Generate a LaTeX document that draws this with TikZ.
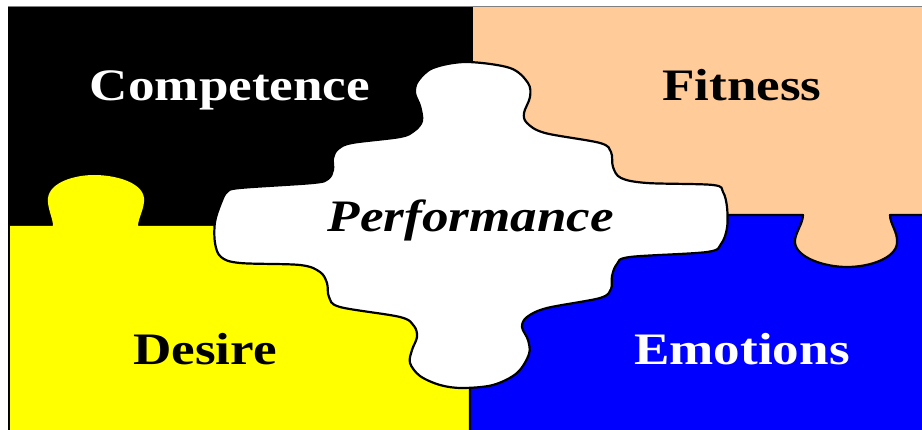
\documentclass[tikz,border=0pt]{standalone}
\usepackage{fontspec}
\newfontfamily\lblfont[FakeStretch=1.18]{Liberation Serif}
\definecolor{peach}{RGB}{255,204,153}
\definecolor{pureblue}{RGB}{0,0,255}
\definecolor{pureyellow}{RGB}{255,255,0}
\tikzset{
  outline/.style={draw=black, line width=2.2pt, line join=round, line cap=round},
  lbl/.style={anchor=base, inner sep=0pt, font=\lblfont\fontsize{45}{45}\selectfont\bfseries}
}
\begin{document}
\begin{tikzpicture}[x=1pt,y=-1pt]
\useasboundingbox (0,0) rectangle (922,430);
\fill[white] (0,0) rectangle (922,430);
% black (Competence) and peach (Fitness)
\fill[black] (8,7) rectangle (473,240);
\fill[peach] (473,7) rectangle (922,280);
\draw[gray, line width=1pt] (8,7) -- (922,7);
% yellow (Desire) with tab
\fill[pureyellow] (9,430) -- (9,226) -- (53,226)
  .. controls (53,218) and (47,208) .. (48,198)
  .. controls (50,182) and (75,175) .. (94,175)
  .. controls (115,175) and (142,182) .. (144,198)
  .. controls (145,208) and (138,218) .. (138,226)
  -- (480,226) -- (480,430) -- cycle;
\draw[outline] (9,430) -- (9,226);
% blue (Emotions) with peach tab cut in
\fill[pureblue] (470,430) -- (470,215) -- (803,215)
  .. controls (803,224) and (794,234) .. (795,243)
  .. controls (797,258) and (825,267) .. (847,267)
  .. controls (870,267) and (896,258) .. (897,243)
  .. controls (898,232) and (890,224) .. (890,215)
  -- (922,215) -- (922,430) -- cycle;
\draw[outline] (470,430) -- (470,215) -- (803,215)
  .. controls (803,224) and (794,234) .. (795,243)
  .. controls (797,258) and (825,267) .. (847,267)
  .. controls (870,267) and (896,258) .. (897,243)
  .. controls (898,232) and (890,224) .. (890,215)
  -- (923,215);
% white (Performance) centre piece
\filldraw[outline, fill=white] plot[smooth cycle, tension=0.55] coordinates {
  (466,62) (510,68) (528,83) (530,97) (524,113) (527,123) (545,133) (600,143)
  (611,152) (613,167) (621,178) (647,183) (713,185) (723,192) (727,207)
  (727,228) (721,244) (707,252) (630,257) (617,264) (612,276) (611,289)
  (600,298) (547,308) (527,317) (522,327) (528,340) (529,354) (517,373)
  (493,385) (462,388) (440,385) (420,376) (410,363) (412,350) (417,337)
  (414,326) (400,317) (340,307) (329,297) (327,283) (320,272) (300,265)
  (240,263) (221,257) (215,243) (215,222) (221,203) (227,192) (240,188)
  (313,183) (328,179) (333,170) (333,158) (338,149) (352,143) (400,137)
  (414,131) (422,121) (420,106) (415,93) (418,81) (433,68)
};
% labels
\node[lbl, text=white] (competence) at (230,101) {Competence};
\node[lbl, text=black] (fitness) at (742,101) {Fitness};
\node[lbl, text=black] (desire) at (205,365) {Desire};
\node[lbl, text=white] (emotions) at (742,365) {Emotions};
\node[lbl, text=black, font=\lblfont\fontsize{45}{45}\selectfont\bfseries\itshape] (performance) at (471,232) {Performance};
\end{tikzpicture}
\end{document}
